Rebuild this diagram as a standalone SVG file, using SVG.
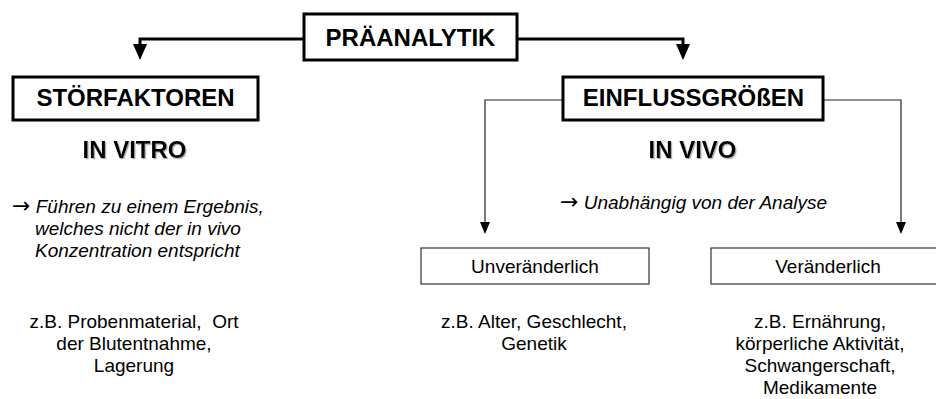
<svg xmlns="http://www.w3.org/2000/svg" width="936" height="399" viewBox="0 0 936 399">
<defs>
<style>
.title{font-family:"Liberation Sans",Arial,sans-serif;font-weight:bold;font-size:24px;fill:#000;text-anchor:middle}
.body{font-family:"Liberation Sans",Arial,sans-serif;font-size:19px;fill:#000;text-anchor:middle}
.ital{font-family:"Liberation Sans",Arial,sans-serif;font-size:19px;font-style:italic;fill:#000}
.arr{font-family:"DejaVu Sans",sans-serif;font-style:normal;font-size:22px;font-weight:normal}
.thick{fill:#fff;stroke:#000;stroke-width:3}
.thin{fill:#fff;stroke:#333;stroke-width:1.2}
.conn-thick{fill:none;stroke:#000;stroke-width:3}
.conn-thin{fill:none;stroke:#222;stroke-width:1.2}
.shadow{filter:url(#sh)}
</style>
<filter id="sh" x="-5%" y="-20%" width="110%" height="140%">
<feDropShadow dx="1.2" dy="1.2" stdDeviation="0.4" flood-color="#999" flood-opacity="0.8"/>
</filter>
</defs>
<rect width="936" height="399" fill="#fff"/>
<g id="connectors">
<polyline class="conn-thick" points="304,39 140,39 140,46"/>
<polygon points="133,44 147,44 140,60" fill="#000"/>
<polyline class="conn-thick" points="517,39 683,39 683,46"/>
<polygon points="676,44 690,44 683,60" fill="#000"/>
<polyline class="conn-thin" points="563,100 485,100 485,224"/>
<polygon points="480,222 490,222 485,234" fill="#000"/>
<polyline class="conn-thin" points="823,100 901,100 901,224"/>
<polygon points="896,222 906,222 901,234" fill="#000"/>
</g>
<g id="praeanalytik">
<rect class="thick" x="304" y="14" width="213" height="46"/>
<text class="title" x="410.5" y="46">PRÄANALYTIK</text>
</g>
<g id="stoerfaktoren">
<rect class="thick" x="13" y="77" width="245" height="43"/>
<text class="title" x="135.5" y="106">STÖRFAKTOREN</text>
</g>
<g id="in-vitro">
<text class="title shadow" x="134.5" y="158">IN VITRO</text>
</g>
<g id="stoer-desc">
<text class="ital" x="12" y="213"><tspan class="arr">→</tspan> Führen zu einem Ergebnis,</text>
<text class="ital" x="35" y="235">welches nicht der in vivo</text>
<text class="ital" x="35" y="257">Konzentration entspricht</text>
</g>
<g id="stoer-examples">
<text class="body" x="134" y="328" xml:space="preserve">z.B. Probenmaterial,  Ort</text>
<text class="body" x="134" y="350">der Blutentnahme,</text>
<text class="body" x="134" y="372">Lagerung</text>
</g>
<g id="einflussgroessen">
<rect class="thick" x="563" y="77" width="260" height="43"/>
<text class="title" x="693.5" y="106">EINFLUSSGRÖßEN</text>
</g>
<g id="in-vivo">
<text class="title shadow" x="692.5" y="158">IN VIVO</text>
</g>
<g id="einfluss-desc">
<text class="ital" x="560" y="209"><tspan class="arr">→</tspan> Unabhängig von der Analyse</text>
</g>
<g id="unveraenderlich">
<rect class="thin" x="421" y="248" width="228" height="36"/>
<text class="body" x="535" y="273">Unveränderlich</text>
</g>
<g id="veraenderlich">
<rect class="thin" x="711" y="248" width="240" height="36"/>
<text class="body" x="828" y="273">Veränderlich</text>
</g>
<g id="unver-examples">
<text class="body" x="534" y="328">z.B. Alter, Geschlecht,</text>
<text class="body" x="534" y="350">Genetik</text>
</g>
<g id="ver-examples">
<text class="body" x="820" y="328">z.B. Ernährung,</text>
<text class="body" x="820" y="350">körperliche Aktivität,</text>
<text class="body" x="820" y="372">Schwangerschaft,</text>
<text class="body" x="820" y="394">Medikamente</text>
</g>
</svg>
